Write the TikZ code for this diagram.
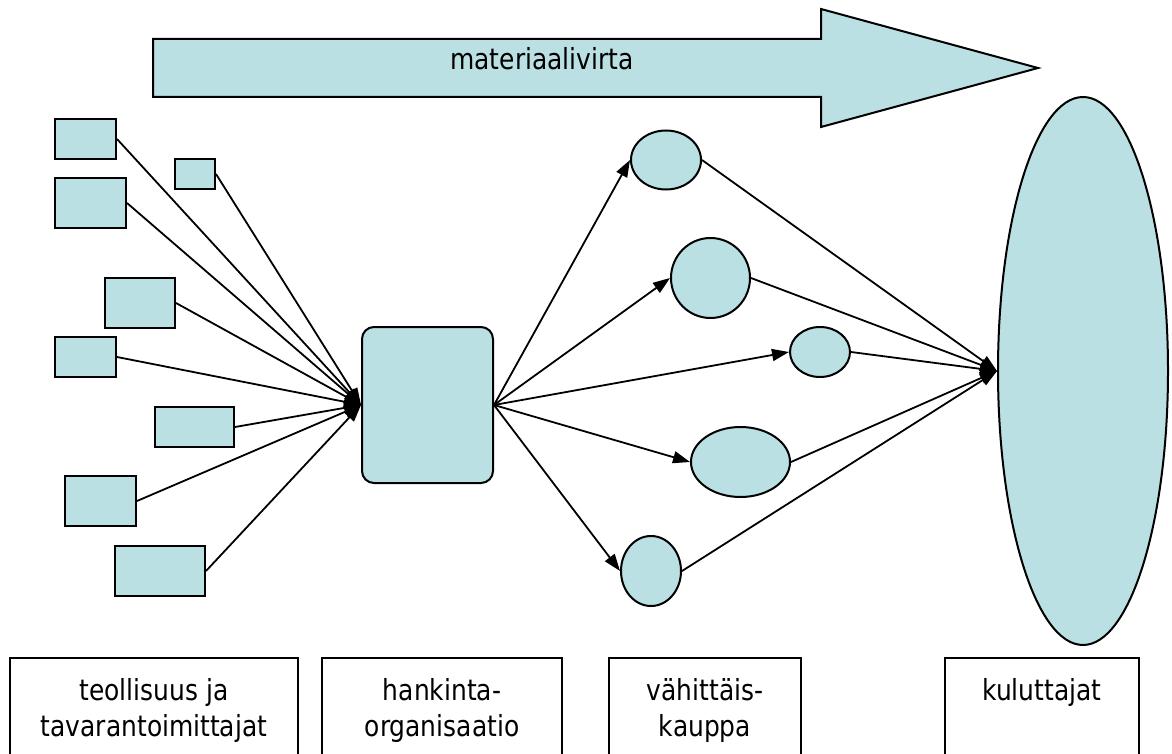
\documentclass[tikz,border=0pt]{standalone}
\usepackage{fontspec}
\setmainfont[FakeStretch=0.86]{DejaVu Sans}
\usetikzlibrary{arrows.meta}
\usetikzlibrary{shapes.geometric}
\definecolor{flowblue}{RGB}{187,224,227}
\tikzset{
	box/.style={draw, line width=2pt, fill=flowblue, inner sep=0pt},
	blob/.style={ellipse, draw, line width=2pt, fill=flowblue, inner sep=0pt},
	flow/.style={line width=1.8pt, -{Triangle[length=17pt,width=12pt]}},
	caption/.style={draw, line width=1.6pt, anchor=north, inner sep=0pt},
	captext/.style={anchor=north, inner sep=0pt, align=center}
}
\newcommand{\supplier}[5] % name, x in px, y in px, width, height
{
	\node[box, minimum width=#4pt, minimum height=#5pt] (#1) at (#2,#3) {};
	\draw[flow] (#1.east) -- (hk.west);
}

\begin{document}
\begin{tikzpicture}[x=1pt, y=-1pt, font=\fontsize{29}{36}\selectfont]
	% 1172px x 754px, 1px = 1pt
	\useasboundingbox (0,0) rectangle (1172,754);
	\clip (0,0) rectangle (1172,754);

	% material flow arrow
	\draw[box] (153,39) -- (821,39) -- (821,9) -- (1038,68)
		-- (821,127) -- (821,97) -- (153,97) -- cycle;
	\node[anchor=base] (flowtext) at (542,70) {materiaalivirta};

	% procurement organisation
	\node[box, rounded corners=12pt, minimum width=131pt, minimum height=156pt] (hk) at (427.5,405) {};

	% suppliers
	\supplier{s1}{85.5}{139}{61}{40};
	\supplier{s2}{195}{174}{40}{30};
	\supplier{s3}{90.5}{203}{71}{50};
	\supplier{s4}{140}{303}{70}{50};
	\supplier{s5}{85.5}{357}{61}{40};
	\supplier{s6}{194.5}{427}{79}{40};
	\supplier{s7}{100.5}{501}{71}{50};
	\supplier{s8}{160}{571}{90}{50};

	% consumers
	\node[blob, minimum width=170pt, minimum height=548pt] (con) at (1083,371) {};

	% retail
	\node[blob, minimum width=70pt, minimum height=59pt] (r1) at (666,160) {};
	\node[blob, minimum width=79pt, minimum height=80pt] (r2) at (710.5,278) {};
	\node[blob, minimum width=60pt, minimum height=50pt] (r3) at (820,352) {};
	\node[blob, minimum width=99pt, minimum height=70pt] (r4) at (740.5,462) {};
	\node[blob, minimum width=60pt, minimum height=70pt] (r5) at (651,571) {};
	\foreach \r in {r1,r2,r3,r4,r5}
	{
		\draw[flow] (hk.east) -- (\r.west);
		\draw[flow] (\r.east) -- (con.west);
	}

	% captions
	\node[caption, minimum width=288pt, minimum height=120pt] (c1) at (154,657) {};
	\node[caption, minimum width=240pt, minimum height=120pt] (c2) at (442,657) {};
	\node[caption, minimum width=192pt, minimum height=120pt] (c3) at (705,657) {};
	\node[caption, minimum width=194pt, minimum height=120pt] (c4) at (1042,657) {};
	\node[captext] (t1) at (c1.north |- 0,678) {teollisuus ja\\tavarantoimittajat};
	\node[captext] (t2) at (c2.north |- 0,678) {hankinta-\\organisaatio};
	\node[captext] (t3) at (c3.north |- 0,678) {vähittäis-\\kauppa};
	\node[captext] (t4) at (c4.north |- 0,678) {kuluttajat};
\end{tikzpicture}
\end{document}
